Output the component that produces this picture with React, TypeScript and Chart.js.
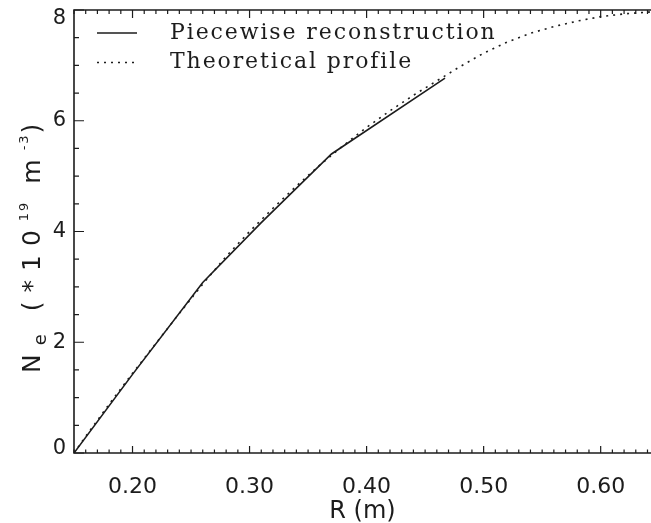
import React, { useEffect, useRef } from "react";
import { Chart, registerables } from "chart.js";

Chart.register(...registerables);

// ---- data ----
const seriesLabels = ["Piecewise reconstruction", "Theoretical profile"];

const piecewiseR = [0.15, 0.2, 0.26, 0.31, 0.37, 0.467];
const piecewiseNe = [0.0, 1.42, 3.08, 4.16, 5.4, 6.77];

const theoreticalR = [
  0.15, 0.16, 0.18, 0.2, 0.22, 0.24, 0.26, 0.28, 0.3, 0.32, 0.34, 0.36, 0.38,
  0.4, 0.42, 0.44, 0.46, 0.48, 0.5, 0.52, 0.54, 0.56, 0.58, 0.6, 0.62, 0.64,
  0.645,
];
const theoreticalNe = [
  0.0, 0.3, 0.88, 1.44, 1.98, 2.52, 3.05, 3.55, 4.0, 4.42, 4.82, 5.2, 5.55,
  5.88, 6.18, 6.46, 6.72, 6.98, 7.22, 7.42, 7.58, 7.7, 7.8, 7.88, 7.93, 7.96,
  7.97,
];

const xTickValues = [0.2, 0.3, 0.4, 0.5, 0.6];
const xTickLabels = ["0.20", "0.30", "0.40", "0.50", "0.60"];
const yTickValues = [0, 2, 4, 6, 8];
const yTickLabels = ["0", "2", "4", "6", "8"];
const xTitle = "R (m)";
const yTitleParts = [
  { text: "N", kind: "main" },
  { text: "e", kind: "sub" },
  { text: " (*10", kind: "main" },
  { text: "19", kind: "sup" },
  { text: " m", kind: "main" },
  { text: "-3", kind: "sup" },
  { text: ")", kind: "main" },
];

const INK = "#1c1c1c";
const SANS = "'DejaVu Sans', 'Liberation Sans', sans-serif";
const SERIF = "'DejaVu Serif', 'Liberation Serif', serif";

const framePlugin = {
  id: "frame",
  afterDraw(chart: any) {
    const { ctx, chartArea, scales } = chart;
    const { left, top, right, bottom } = chartArea;
    const x = scales.x;
    const y = scales.y;
    ctx.save();
    ctx.strokeStyle = INK;
    ctx.lineWidth = 1.6;
    ctx.beginPath();
    ctx.moveTo(right + 4, top);
    ctx.lineTo(left, top);
    ctx.lineTo(left, bottom);
    ctx.lineTo(right + 4, bottom);
    ctx.stroke();

    ctx.lineWidth = 1.2;
    ctx.beginPath();
    for (let k = 15; k <= 64; k++) {
      const px = x.getPixelForValue(k / 100);
      const major = k % 10 === 0;
      ctx.moveTo(px, bottom);
      ctx.lineTo(px, bottom - (major ? 7 : 3.5));
      ctx.moveTo(px, top);
      ctx.lineTo(px, top + (major ? 8 : 4));
    }
    for (let k = 0; k <= 16; k++) {
      const py = y.getPixelForValue(k / 2);
      const major = k % 4 === 0;
      ctx.moveTo(left, py);
      ctx.lineTo(left + (major ? 10 : 5), py);
    }
    ctx.stroke();
    ctx.restore();
  },
};

const legendPlugin = {
  id: "insideLegend",
  afterDraw(chart: any) {
    const { ctx, chartArea } = chart;
    const { left, top } = chartArea;
    ctx.save();
    chart.data.datasets.forEach((ds: any, i: number) => {
      const yy = top + 23 + i * 29.5;
      ctx.strokeStyle = ds.borderColor;
      ctx.lineWidth = ds.borderWidth;
      ctx.setLineDash(ds.borderDash || []);
      ctx.beginPath();
      ctx.moveTo(left + 23, yy);
      ctx.lineTo(left + 63, yy);
      ctx.stroke();
      ctx.setLineDash([]);
      ctx.fillStyle = INK;
      ctx.font = `22px ${SERIF}`;
      (ctx as any).letterSpacing = "1.9px";
      ctx.textBaseline = "middle";
      ctx.textAlign = "left";
      ctx.fillText(ds.label, left + 96, yy);
      (ctx as any).letterSpacing = "0px";
    });
    ctx.restore();
  },
};

const yTitlePlugin = {
  id: "yTitle",
  afterDraw(chart: any) {
    const { ctx } = chart;
    ctx.save();
    ctx.translate(31, 373);
    ctx.rotate(-Math.PI / 2);
    ctx.fillStyle = INK;
    ctx.textBaseline = "alphabetic";
    ctx.textAlign = "left";
    let cx = 0;
    for (const p of yTitleParts) {
      let size = 25;
      let dy = 9;
      let spacing = 9;
      if (p.kind === "sub") {
        size = 18;
        dy = 15;
        spacing = 6;
      } else if (p.kind === "sup") {
        size = 13;
        dy = -3;
        spacing = 2;
      }
      ctx.font = `${size}px ${SANS}`;
      (ctx as any).letterSpacing = `${spacing}px`;
      ctx.fillText(p.text, cx, dy);
      cx += ctx.measureText(p.text).width;
    }
    (ctx as any).letterSpacing = "0px";
    ctx.restore();
  },
};

export default function App() {
  const ref = useRef<HTMLCanvasElement>(null);

  useEffect(() => {
    const canvas = ref.current;
    if (!canvas) return;
    const chart = new Chart(canvas, {
      type: "line",
      data: {
        datasets: [
          {
            label: seriesLabels[0],
            data: piecewiseR.map((r, i) => ({ x: r, y: piecewiseNe[i] })),
            borderColor: INK,
            borderWidth: 1.6,
            pointRadius: 0,
            tension: 0,
            fill: false,
          },
          {
            label: seriesLabels[1],
            data: theoreticalR.map((r, i) => ({ x: r, y: theoreticalNe[i] })),
            borderColor: INK,
            borderWidth: 1.6,
            borderDash: [2, 5],
            pointRadius: 0,
            tension: 0,
            fill: false,
          },
        ],
      },
      options: {
        responsive: false,
        maintainAspectRatio: false,
        animation: false,
        layout: { padding: { top: 10, left: 0, right: 0, bottom: 0 } },
        plugins: {
          legend: { display: false },
          tooltip: { enabled: false },
        },
        scales: {
          x: {
            type: "linear",
            min: 0.15,
            max: 0.643,
            grid: { display: false, drawTicks: false },
            border: { display: false },
            ticks: {
              font: { family: SANS, size: 22 },
              color: INK,
              padding: 21,
              maxRotation: 0,
              autoSkip: false,
              callback: (v: any) => {
                const i = xTickValues.findIndex((t) => Math.abs(t - Number(v)) < 1e-9);
                return i >= 0 ? xTickLabels[i] : "";
              },
            },
            afterBuildTicks: (s: any) => {
              s.ticks = xTickValues.map((v) => ({ value: v }));
            },
            afterFit: (s: any) => {
              s.height = 70;
              s.paddingLeft = 0;
              s.paddingRight = 0;
            },
            title: {
              display: true,
              text: xTitle,
              font: { family: SANS, size: 24 },
              color: INK,
              padding: { top: 0, bottom: -3 },
            },
          },
          y: {
            type: "linear",
            min: 0,
            max: 8,
            grid: { display: false, drawTicks: false },
            border: { display: false },
            ticks: {
              font: (c: any) => {
                const i = c.index;
                if (i === yTickValues.length - 1) return { family: SANS, size: 21, lineHeight: "18px" };
                if (i === 0) return { family: SANS, size: 21, lineHeight: "8px" };
                return { family: SANS, size: 21 };
              },
              color: INK,
              padding: 8,
              autoSkip: false,
              callback: (v: any) => {
                const i = yTickValues.findIndex((t) => Math.abs(t - Number(v)) < 1e-9);
                if (i < 0) return "";
                if (i === yTickValues.length - 1) return ["", yTickLabels[i]];
                if (i === 0) return [yTickLabels[i], ""];
                return yTickLabels[i];
              },
            },
            afterBuildTicks: (s: any) => {
              s.ticks = yTickValues.map((v) => ({ value: v }));
            },
            afterFit: (s: any) => {
              s.width = 74;
              s.paddingTop = 0;
              s.paddingBottom = 0;
            },
          },
        },
      },
      plugins: [framePlugin, legendPlugin, yTitlePlugin],
    });
    return () => chart.destroy();
  }, []);

  return (
    <div style={{ position: "absolute", left: 0, top: 0, width: 651, height: 523, background: "#fff" }}>
      <canvas ref={ref} width={651} height={523} style={{ display: "block" }} />
    </div>
  );
}
